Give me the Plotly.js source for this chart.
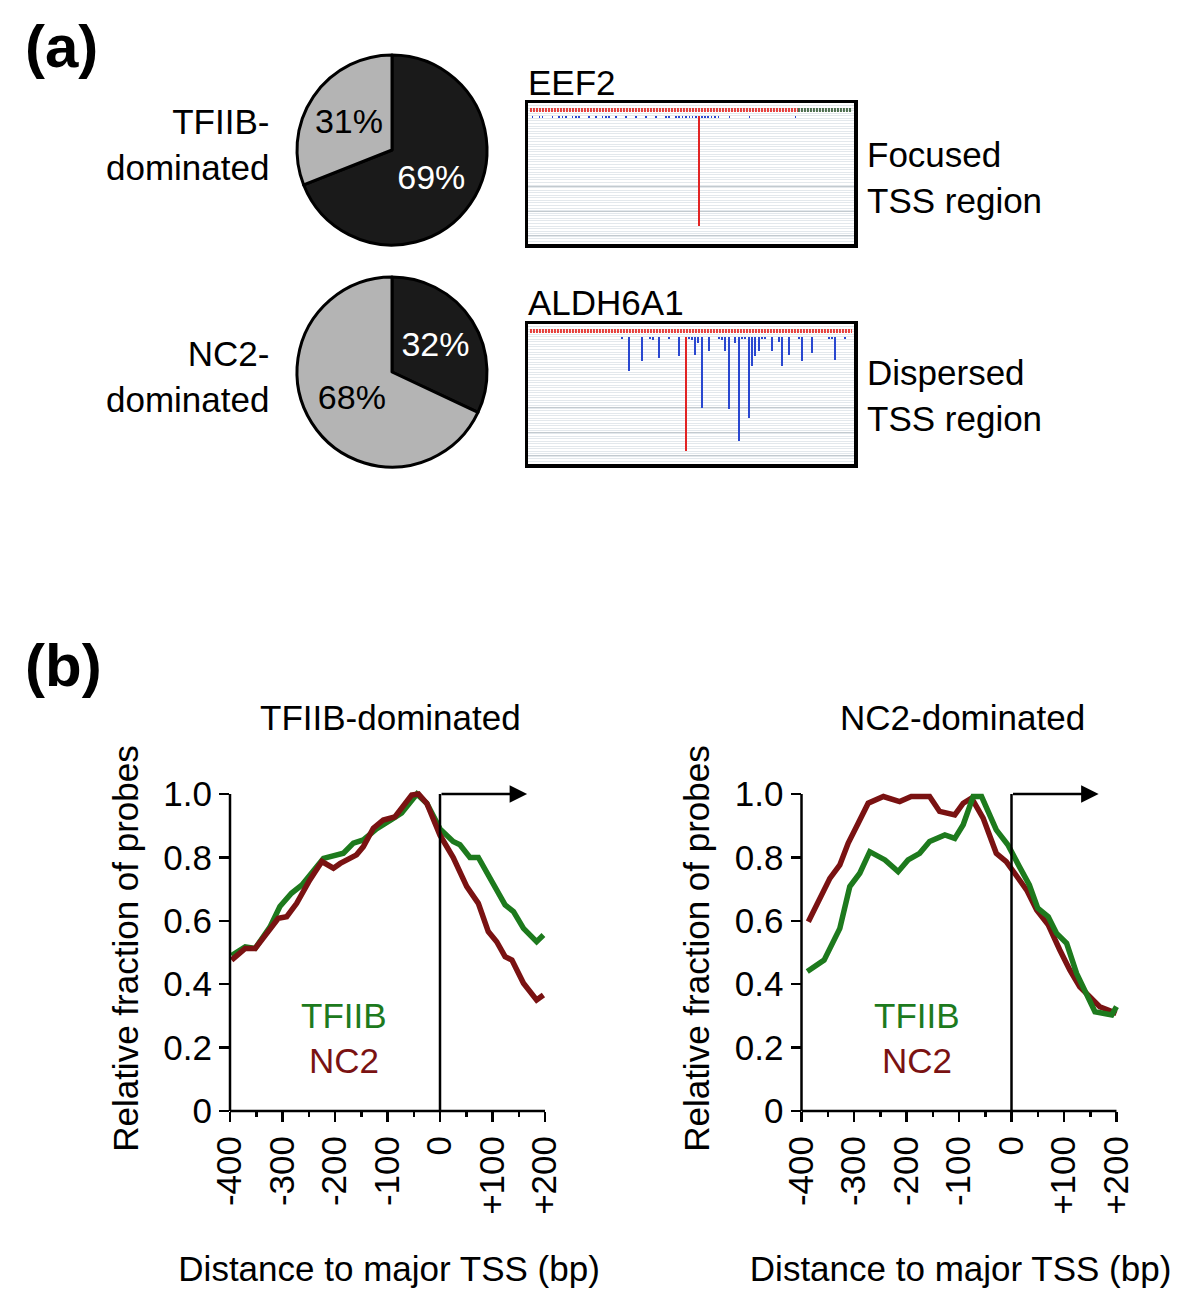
<!DOCTYPE html>
<html>
<head>
<meta charset="utf-8">
<script src="https://cdn.plot.ly/plotly-3.0.1.min.js"></script>
<style>html,body{margin:0;padding:0;background:#fff}#chart{width:1200px;height:1308px}</style>
</head>
<body>
<div id="chart"></div>
<script>
// ---------------- DATA ----------------
const pieLabels = ['Focused', 'Dispersed'];
const pieTFIIB = [69, 31];
const pieNC2 = [32, 68];

// EEF2 browser track (position 0-100 across window, depth = probe count)
const eef2BlueX = [1.4,3.5,4.5,7.5,9.6,10.6,11.7,13.7,14.7,15.7,18.8,20.9,22.9,23.9,24.9,27.0,30.1,33.1,36.2,39.3,42.3,43.3,45.4,46.4,47.4,48.5,49.5,50.5,51.5,53.3,54.3,55.3,56.3,57.3,58.4,61.8,67.9,82.0];
const eef2BlueH = [1.5,1.5,1.5,1.5,1.5,1.5,1.5,1.5,1.5,1.5,1.5,1.5,1.5,1.5,1.5,1.5,1.5,1.5,1.5,1.5,1.5,1.5,1.5,1.5,1.5,1.5,1.5,1.5,1.5,1.5,1.5,1.5,1.5,1.5,1.5,1.5,1.5,1.5];
const eef2RedX = [52.4];
const eef2RedH = [86];

// ALDH6A1 browser track
const aldhBlueX = [28.9,31.0,35.1,37.4,38.4,40.1,43.3,46.3,49.5,50.2,51.2,52.2,53.4,55.4,58.7,59.5,60.5,61.6,63.5,64.6,65.6,66.7,67.7,68.8,69.7,70.8,71.8,72.8,74.9,77.0,78.0,80.1,83.1,84.1,87.2,92.3,93.3,94.3,97.3];
const aldhBlueH = [1.5,27.2,19.4,1.5,2.5,16.8,1.5,15.5,1.5,2.5,14.2,5.1,55.8,11.6,1.5,2.5,11.6,57.1,5.0,81.8,1.5,1.5,63.6,23.3,15.5,11.6,1.5,1.5,11.6,4.0,23.3,14.2,1.5,19.4,13.0,1.5,1.5,18.0,1.5];
const aldhRedX = [48.4];
const aldhRedH = [90];

// Panel (b): distance to major TSS (bp) vs relative fraction of probes
const tfiibDom_TFIIB_x = [-397,-371,-352,-324,-305,-283,-263,-222,-184,-165,-146,-121,-89,-73,-44,-25,0,25,38,57,73,102,124,140,159,184,197];
const tfiibDom_TFIIB_y = [0.49,0.518,0.513,0.58,0.645,0.687,0.713,0.797,0.813,0.845,0.855,0.89,0.923,0.94,1.0,0.97,0.89,0.85,0.84,0.80,0.80,0.718,0.65,0.629,0.576,0.534,0.555];
const tfiibDom_NC2_x = [-397,-371,-352,-324,-308,-292,-273,-248,-225,-203,-190,-159,-146,-127,-108,-86,-70,-54,-41,-25,0,25,51,73,92,108,124,137,159,184,197];
const tfiibDom_NC2_y = [0.476,0.513,0.513,0.571,0.608,0.613,0.655,0.729,0.787,0.766,0.781,0.808,0.834,0.892,0.918,0.928,0.96,0.997,1.0,0.97,0.87,0.80,0.708,0.655,0.566,0.534,0.487,0.476,0.403,0.35,0.366];

const nc2Dom_TFIIB_x = [-389,-357,-327,-308,-289,-270,-241,-216,-197,-175,-156,-127,-108,-92,-73,-57,-29,-7,15,34,50,70,86,105,124,143,159,191,200];
const nc2Dom_TFIIB_y = [0.44,0.476,0.576,0.708,0.75,0.818,0.792,0.755,0.792,0.813,0.85,0.871,0.86,0.903,0.992,0.992,0.887,0.84,0.771,0.713,0.64,0.613,0.56,0.529,0.434,0.371,0.313,0.303,0.329];
const nc2Dom_NC2_x = [-387,-365,-346,-327,-311,-292,-273,-244,-213,-191,-156,-137,-108,-92,-76,-54,-29,-10,10,29,48,70,92,111,130,149,168,200];
const nc2Dom_NC2_y = [0.597,0.666,0.734,0.776,0.845,0.908,0.971,0.992,0.976,0.992,0.992,0.945,0.934,0.971,0.987,0.924,0.813,0.787,0.74,0.697,0.634,0.587,0.508,0.445,0.392,0.36,0.329,0.308];

const xTickVals = [-400,-300,-200,-100,0,100,200];
const xTickText = ['-400','-300','-200','-100','0','+100','+200'];
const yTickVals = [0,0.2,0.4,0.6,0.8,1.0];
const yTickText = ['0','0.2','0.4','0.6','0.8','1.0'];

// ---------------- STYLE ----------------
const FONT = 'Liberation Sans, Arial, Helvetica, sans-serif';
const FS = 35;
const GREEN = '#1d7a1d';
const DRED = '#7a1212';
const BLUE = '#2a48d0';
const RED = '#e22424';
const H = 1308, W = 1200;
const px = v => v / W;
const py = v => 1 - v / H;

const traces = [];

// Pies
const pieCommon = {
  type: 'pie', labels: pieLabels, sort: false, direction: 'clockwise', rotation: 0,
  marker: {colors: ['#1a1a1a', '#b4b4b4'], line: {color: '#000', width: 3}},
  texttemplate: '%{value}%', textposition: 'inside', insidetextorientation: 'horizontal',
  textfont: {family: FONT, size: 34, color: ['#ffffff', '#000000']},
  hoverinfo: 'label+percent', showlegend: false
};
traces.push(Object.assign({}, pieCommon, {values: pieTFIIB, domain: {x: [px(297), px(487)], y: [py(245), py(55)]}}));
traces.push(Object.assign({}, pieCommon, {values: pieNC2, domain: {x: [px(297), px(487)], y: [py(467), py(277)]}}));

// Browser tracks
function barTrace(x, h, color, w, xa, ya) {
  return {type: 'bar', x: x, y: h, base: 0, width: w, marker: {color: color, line: {width: 0}},
    xaxis: xa, yaxis: ya, showlegend: false, hoverinfo: 'x+y'};
}
traces.push(barTrace(eef2BlueX, eef2BlueH, BLUE, 0.5, 'x', 'y'));
traces.push(barTrace(eef2RedX, eef2RedH, RED, 0.6, 'x', 'y'));
traces.push(barTrace(aldhBlueX, aldhBlueH, BLUE, 0.6, 'x2', 'y2'));
traces.push(barTrace(aldhRedX, aldhRedH, RED, 0.6, 'x2', 'y2'));

// Line charts
function lineTrace(x, y, color, xa, ya, name) {
  return {type: 'scatter', mode: 'lines', x: x, y: y, name: name,
    line: {color: color, width: 5.5, shape: 'linear'}, xaxis: xa, yaxis: ya, showlegend: false};
}
traces.push(lineTrace(tfiibDom_TFIIB_x, tfiibDom_TFIIB_y, GREEN, 'x3', 'y3', 'TFIIB'));
traces.push(lineTrace(tfiibDom_NC2_x, tfiibDom_NC2_y, DRED, 'x3', 'y3', 'NC2'));
traces.push(lineTrace(nc2Dom_NC2_x, nc2Dom_NC2_y, DRED, 'x4', 'y4', 'NC2'));
traces.push(lineTrace(nc2Dom_TFIIB_x, nc2Dom_TFIIB_y, GREEN, 'x4', 'y4', 'TFIIB'));

// ---------------- LAYOUT ----------------
function trackX(domain, anchor) {
  return {domain: domain, anchor: anchor, range: [0, 100], showgrid: false, zeroline: false, showticklabels: false,
    ticks: '', showline: true, mirror: true, linecolor: '#000', linewidth: 3.5, fixedrange: true};
}
function trackY(domain, anchor) {
  return {domain: domain, anchor: anchor, range: [100, -10], zeroline: false, showticklabels: false, ticks: '',
    showline: true, mirror: true, linecolor: '#000', linewidth: 3.5,
    tickmode: 'array', tickvals: [55.5, 75, 93.5], showgrid: true, gridcolor: '#c3cacf', gridwidth: 1,
    minor: {dtick: 2, tick0: 0, showgrid: true, gridcolor: '#e3e8ec', gridwidth: 1, ticks: ''}, fixedrange: true};
}
const tickFont = {family: FONT, size: FS, color: '#000'};
function lineX(domain, anchor) {
  return {domain: domain, anchor: anchor, range: [-400, 206], showline: false, zeroline: false, showgrid: false,
    tickmode: 'array', tickvals: xTickVals, ticktext: xTickText, tickangle: -90,
    ticks: 'outside', ticklen: 10, tickwidth: 2.5, tickcolor: '#000', tickfont: tickFont,
    minor: {tickmode: 'linear', tick0: -400, dtick: 50, ticks: 'outside', ticklen: 5, tickwidth: 2.5, tickcolor: '#000', showgrid: false},
    title: {text: 'Distance to major TSS (bp)', font: {family: FONT, size: FS, color: '#000'}, standoff: 42},
    fixedrange: true};
}
function lineY(domain, anchor) {
  return {domain: domain, anchor: anchor, range: [0, 1.025], showline: false, zeroline: false, showgrid: false,
    tickmode: 'array', tickvals: yTickVals, ticktext: yTickText,
    ticks: 'outside', ticklen: 10, tickwidth: 2.5, tickcolor: '#000', tickfont: tickFont,
    title: {text: 'Relative fraction of probes', font: {family: FONT, size: FS, color: '#000'}, standoff: 14},
    fixedrange: true};
}

const lineXDomL = [px(230), px(230 + 606 * 0.525)];
const lineXDomR = [px(801.5), px(801.5 + 606 * 0.525)];
const lineYDom = [py(1111), py(1111 - 317 * 1.025)];

function ann(text, x, y, opts) {
  return Object.assign({text: text, x: x, y: y, xref: 'paper', yref: 'paper', showarrow: false,
    font: {family: FONT, size: FS, color: '#000'}, xanchor: 'center', yanchor: 'middle'}, opts || {});
}

const annotations = [
  ann('<b>(a)</b>', px(61), py(46), {font: {family: FONT, size: 60, color: '#000'}}),
  ann('<b>(b)</b>', px(63), py(666), {font: {family: FONT, size: 60, color: '#000'}}),
  ann('TFIIB-<br>dominated', px(271), py(145), {xanchor: 'right', align: 'right'}),
  ann('NC2-<br>dominated', px(271), py(377), {xanchor: 'right', align: 'right'}),
  ann('Focused<br>TSS region', px(865), py(177), {xanchor: 'left', align: 'left'}),
  ann('Dispersed<br>TSS region', px(865), py(395), {xanchor: 'left', align: 'left'}),
  ann('EEF2', px(526), py(83), {xanchor: 'left'}),
  ann('ALDH6A1', px(526), py(302), {xanchor: 'left'}),
  ann('TFIIB-dominated', px(390), py(717)),
  ann('NC2-dominated', px(962), py(717)),
  ann('TFIIB', px(344), py(1015), {font: {family: FONT, size: FS, color: GREEN}}),
  ann('NC2', px(344), py(1060), {font: {family: FONT, size: FS, color: DRED}}),
  ann('TFIIB', px(917), py(1015), {font: {family: FONT, size: FS, color: GREEN}}),
  ann('NC2', px(917), py(1060), {font: {family: FONT, size: FS, color: DRED}}),
  // TSS arrows
  {x: 166, y: 1.0, ax: 0, ay: 1.0, xref: 'x3', yref: 'y3', axref: 'x3', ayref: 'y3', text: '',
    showarrow: true, arrowhead: 2, arrowsize: 1.4, arrowwidth: 2.5, arrowcolor: '#000', standoff: 0},
  {x: 166, y: 1.0, ax: 0, ay: 1.0, xref: 'x4', yref: 'y4', axref: 'x4', ayref: 'y4', text: '',
    showarrow: true, arrowhead: 2, arrowsize: 1.4, arrowwidth: 2.5, arrowcolor: '#000', standoff: 0}
];

const shapes = [];
// genome ruler bands
shapes.push({type: 'line', xref: 'x', yref: 'y', x0: 0.6, x1: 82.8, y0: -4.5, y1: -4.5, line: {color: '#e6403c', width: 4, dash: '2px,1px'}});
shapes.push({type: 'line', xref: 'x', yref: 'y', x0: 82.8, x1: 99.4, y0: -4.5, y1: -4.5, line: {color: '#4d6e4d', width: 4, dash: '2px,1px'}});
shapes.push({type: 'line', xref: 'x2', yref: 'y2', x0: 0.6, x1: 99.4, y0: -4.5, y1: -4.5, line: {color: '#e6403c', width: 4, dash: '2px,1px'}});
// axis lines and TSS marker
['3', '4'].forEach(k => {
  shapes.push({type: 'line', xref: 'x' + k + ' domain', yref: 'y' + k, x0: 0, x1: 0, y0: 0, y1: 1, line: {color: '#000', width: 2.5}});
  shapes.push({type: 'line', xref: 'x' + k, yref: 'y' + k + ' domain', x0: -400, x1: 200, y0: 0, y1: 0, line: {color: '#000', width: 2.5}});
  shapes.push({type: 'line', xref: 'x' + k, yref: 'y' + k, x0: 0, x1: 0, y0: 0, y1: 1.0, line: {color: '#000', width: 2.5}});
});

const layout = {
  width: W, height: H, margin: {l: 0, r: 0, t: 0, b: 0},
  paper_bgcolor: '#fff', plot_bgcolor: 'rgba(0,0,0,0)',
  font: {family: FONT, color: '#000'},
  showlegend: false, barmode: 'overlay', bargap: 0,
  xaxis: trackX([px(528), px(854)], 'y'),
  yaxis: trackY([py(244), py(103)], 'x'),
  xaxis2: trackX([px(528), px(854)], 'y2'),
  yaxis2: trackY([py(464), py(324)], 'x2'),
  xaxis3: lineX(lineXDomL, 'y3'),
  yaxis3: lineY(lineYDom, 'x3'),
  xaxis4: lineX(lineXDomR, 'y4'),
  yaxis4: lineY(lineYDom, 'x4'),
  annotations: annotations,
  shapes: shapes
};

Plotly.newPlot('chart', traces, layout, {displayModeBar: false, staticPlot: true});
</script>
</body>
</html>
